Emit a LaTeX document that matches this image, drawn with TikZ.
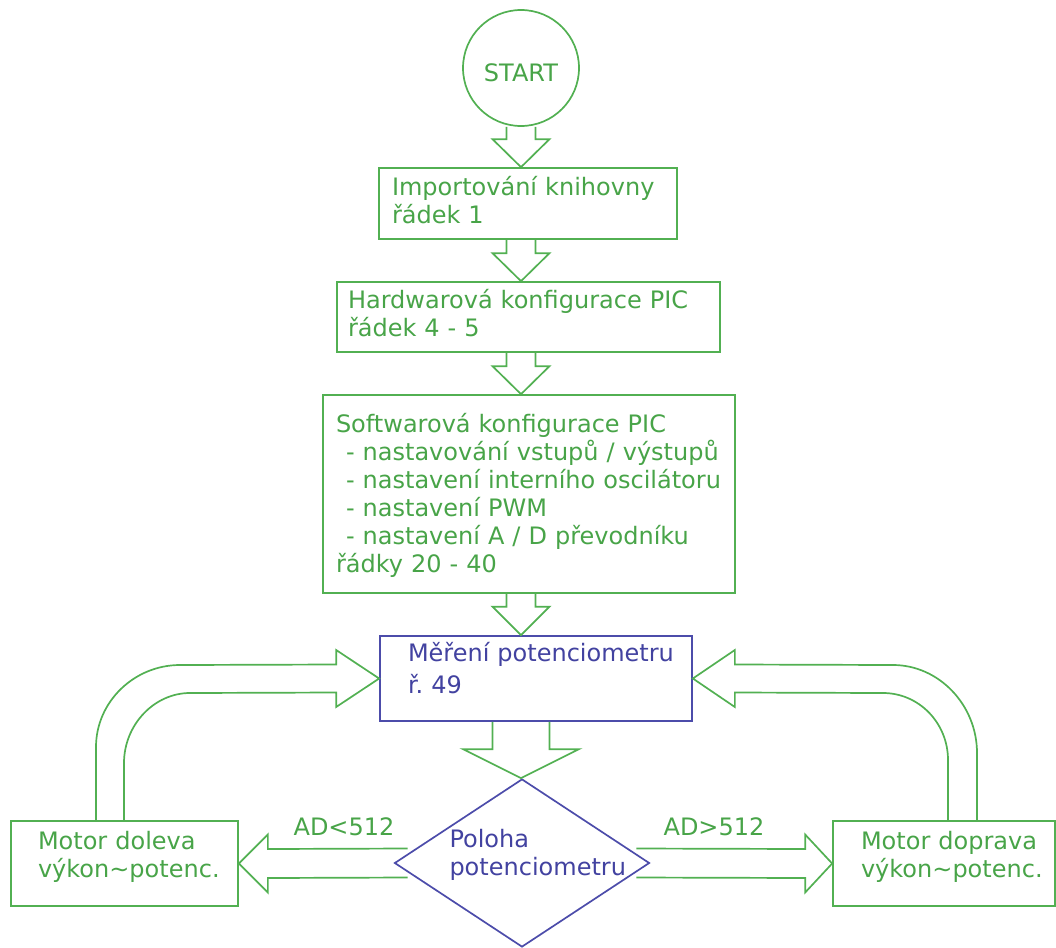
\documentclass[tikz,border=0pt]{standalone}
\usepackage{fontspec}
\setmainfont{DejaVu Sans}
\usetikzlibrary{calc,shapes.geometric}
\definecolor{flowgreen}{RGB}{82,176,82}
\definecolor{textgreen}{RGB}{72,164,72}
\definecolor{flowblue}{RGB}{76,76,170}
\definecolor{textblue}{RGB}{66,66,160}
\hyphenpenalty=10000
\exhyphenpenalty=10000
\newcommand{\flowdown}[5]{%
  \draw[flow] ($(start |- #1.south)+(-#3,0)$) -- ($(start |- #2.north)+(-#3,-#5)$)
    -- ($(start |- #2.north)+(-#4,-#5)$) -- (start |- #2.north)
    -- ($(start |- #2.north)+(#4,-#5)$) -- ($(start |- #2.north)+(#3,-#5)$)
    -- ($(start |- #1.south)+(#3,0)$);}
\begin{document}
\begin{tikzpicture}[y=1pt, x=1pt, yscale=-1, line width=1.7pt,
  flow/.style={draw=flowgreen, line join=miter},
  box/.style={draw=flowgreen, text=textgreen, rectangle, align=left, inner ysep=0pt, text height=0pt, font=\fontsize{24}{28}\selectfont\hyphenpenalty10000\relax},
  bluebox/.style={box, draw=flowblue, text=textblue},
  lbl/.style={text=textgreen, inner sep=0pt, anchor=base, font=\fontsize{24}{28}\selectfont}]
\useasboundingbox (0,0) rectangle (1056,947);
\node[box, circle, inner sep=0pt, minimum size=116pt, text height=28pt, text depth=0pt] (start) at (521,68) {START};
\node[box, text width=272pt, inner xsep=13pt, minimum height=71pt, text depth=17pt] (imp) at (528,203.5) {Importování~knihovny\\řádek~1};
\node[box, text width=361pt, inner xsep=11pt, minimum height=70pt, text depth=18pt] (hw) at (528.5,317) {Hardwarová~konfigurace~PIC\\řádek~4~-~5};
\node[box, text width=386pt, inner xsep=13pt, minimum height=198pt, text depth=124pt] (sw) at (529,494) {Softwarová~konfigurace~PIC\\
  \hspace*{10pt}-~nastavování~vstupů~/~výstupů\\
  \hspace*{10pt}-~nastavení~interního~oscilátoru\\
  \hspace*{10pt}-~nastavení~PWM\\
  \hspace*{10pt}-~nastavení~A~/~D~převodníku\\
  řádky~20~-~40};
\node[bluebox, text width=256pt, inner xsep=28pt, minimum height=85pt, text depth=35pt] (meas) at (536,678.5) {Měření~potenciometru\\[4pt]ř.~49};
\node[bluebox, diamond, aspect=1.518, inner sep=0pt, text width=145pt, minimum width=255pt, minimum height=168pt, text depth=32pt] (dec) at (522,863) {Poloha\\potenciometru};
\node[box, text width=173pt, inner xsep=27pt, minimum height=85pt, text depth=29pt] (motorl) at (124.5,863.5) {Motor~doleva\\výkon\textasciitilde potenc.};
\node[box, text width=166pt, inner xsep=28pt, minimum height=85pt, text depth=29pt] (motorr) at (944,863.5) {Motor~doprava\\výkon\textasciitilde potenc.};
\node[lbl] (adless) at (344,835) {AD<512};
\node[lbl] (admore) at (714,835) {AD>512};
\flowdown{start}{imp}{14.5}{28.5}{28}
\flowdown{imp}{hw}{14.5}{28.5}{28}
\flowdown{hw}{sw}{14.5}{28.5}{28}
\flowdown{sw}{meas}{14.5}{28.5}{28.5}
\flowdown{meas}{dec}{28.5}{58}{29}
\draw[flow] ($(dec.west)+(14,-14.5)$) -- ($(motorl.east)+(29,-14.5)$) -- ($(motorl.east)+(29,-29)$) -- (motorl.east)
  -- ($(motorl.east)+(29,29)$) -- ($(motorl.east)+(29,14.5)$) -- ($(dec.west)+(14,14.5)$);
\draw[flow] ($(dec.east)+(-14,-14.5)$) -- ($(motorr.west)+(-27,-14.5)$) -- ($(motorr.west)+(-27,-29)$) -- (motorr.west)
  -- ($(motorr.west)+(-27,29)$) -- ($(motorr.west)+(-27,14.5)$) -- ($(dec.east)+(-14,14.5)$);
\draw[flow] ($(motorl.north)+(-28.5,0)$) -- (96,747) .. controls (96,702) and (134,665) .. (180,665)
  -- ($(meas.west)+(-43,-14)$) -- ($(meas.west)+(-43,-28.5)$) -- (meas.west) -- ($(meas.west)+(-43,28.5)$)
  -- ($(meas.west)+(-43,14)$) -- (190,693) .. controls (154,693) and (124,725) .. (124,763) -- ($(motorl.north)+(-0.5,0)$);
\draw[flow] ($(motorr.north)+(33,0)$) -- (977,753) .. controls (977,705) and (939,665) .. (893,665)
  -- ($(meas.east)+(42,-14)$) -- ($(meas.east)+(42,-28.5)$) -- (meas.east) -- ($(meas.east)+(42,28.5)$)
  -- ($(meas.east)+(42,14)$) -- (883,693) .. controls (919,693) and (948,723) .. (948,760) -- ($(motorr.north)+(4,0)$);
\end{tikzpicture}
\end{document}
